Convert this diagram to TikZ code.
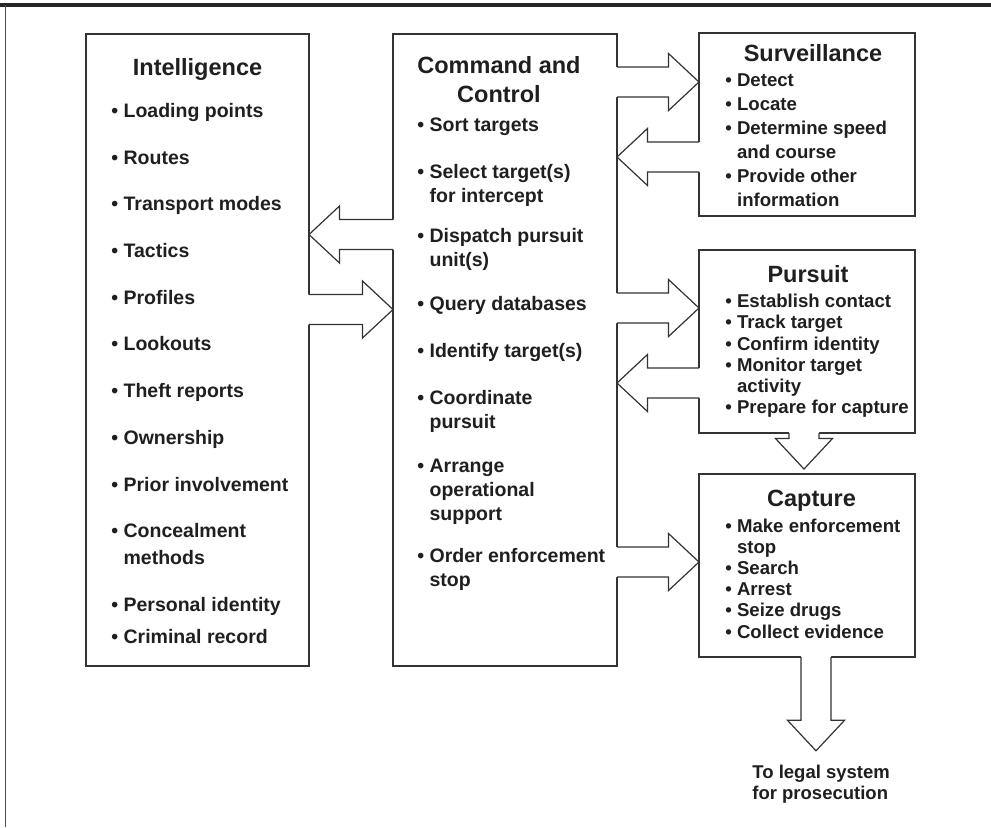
\documentclass[tikz,border=0pt]{standalone}
\usepackage{fontspec}
\setmainfont{Liberation Sans}
\usetikzlibrary{calc}
\colorlet{boxcol}{black!80}
\colorlet{textcol}{black!88}
\tikzstyle{stage}=[draw=boxcol,line width=0.7pt,inner sep=0pt,outer sep=0pt]
\tikzstyle{arrowline}=[boxcol,line width=0.6pt,line join=miter]
\tikzset{
  stage title/.style={textcol,inner sep=0pt,align=center,
                      font=\bfseries\fontsize{11.75}{14.5}\selectfont},
  items/.style 2 args={textcol,inner sep=0pt,anchor=north west,align=left,
                       font=\bfseries\fontsize{#1}{#2}\selectfont}}
\newcommand{\bul}{\textbullet\ }
\newcommand{\ind}{\phantom{\textbullet\ }}
% fat open-tailed arrow from a point on a box edge to its tip
\newcommand{\blockarrow}[2]{%
  \coordinate (ba-t) at #1;
  \coordinate (ba-p) at #2;
  \coordinate (ba-h) at ($(ba-p)!\headlen!(ba-t)$);
  \coordinate (ba-u) at ($(ba-t)!-1pt!(ba-p)$);
  \fill[white] ($(ba-u)!\shaftw!90:(ba-p)$) -- ($(ba-h)!\shaftw!-90:(ba-t)$)
    -- ($(ba-h)!\headw!-90:(ba-t)$) -- (ba-p) -- ($(ba-h)!\headw!90:(ba-t)$)
    -- ($(ba-h)!\shaftw!90:(ba-t)$) -- ($(ba-u)!\shaftw!-90:(ba-p)$) -- cycle;
  \draw[arrowline] ($(ba-t)!\shaftw!90:(ba-p)$) -- ($(ba-h)!\shaftw!-90:(ba-t)$)
    -- ($(ba-h)!\headw!-90:(ba-t)$) -- (ba-p) -- ($(ba-h)!\headw!90:(ba-t)$)
    -- ($(ba-h)!\shaftw!90:(ba-t)$) -- ($(ba-t)!\shaftw!-90:(ba-p)$);
}

\begin{document}
\begin{tikzpicture}[x=0.5pt,y=-0.5pt]
  \def\shaftw{7.5pt}
  \def\headw{14.25pt}
  \def\headlen{15.25pt}
  \useasboundingbox (0,0) rectangle (991,827);

  % FRAME
  \draw[black!85,line width=1.75pt] (0,5) -- (991,5);
  \draw[black!70,line width=0.5pt] (5,5) -- (5,827);

  % BOXES
  \node[stage,minimum width=111.5pt,minimum height=316pt] (intel) at (197.5,350) {};
  \node[stage,minimum width=112pt,minimum height=316pt] (cmd) at (505,350) {};
  \node[stage,minimum width=108pt,minimum height=91.5pt] (surv) at (807,124.5) {};
  \node[stage,minimum width=108pt,minimum height=91.5pt] (purs) at (807,341.5) {};
  \node[stage,minimum width=108pt,minimum height=91.5pt] (capt) at (807,565.5) {};

  % ARROWS
  \foreach \y/\a/\b in {234.5/cmd.west/intel.east, 309.5/intel.east/cmd.west,
                        82/cmd.east/surv.west, 157/surv.west/cmd.east,
                        308/cmd.east/purs.west, 383/purs.west/cmd.east,
                        562/cmd.east/capt.west}{
    \blockarrow{(\a |- 0,\y)}{(\b |- 0,\y)}
  }
  \blockarrow{(purs.south -| 804,0)}{($(capt.north -| 804,0)+(0,-5)$)}

  % TEXT
  \node[stage title,anchor=base] (intel-t) at (197.5,75) {Intelligence};
  \node[stage title,anchor=north] (cmd-t) at (499,52.4) {\strut Command and\\Control};
  \node[stage title,anchor=base] (surv-t) at (813,61.7) {Surveillance};
  \node[stage title,anchor=base] (purs-t) at (808,282.7) {Pursuit};
  \node[stage title,anchor=base] (capt-t) at (811.5,506.7) {Capture};

  \node[items={9.75}{13.5}] (intel-l) at (111,98.1) {\strut\bul Loading points\\[9.85pt]
    \bul Routes\\[9.85pt]
    \bul Transport modes\\[9.85pt]
    \bul Tactics\\[9.85pt]
    \bul Profiles\\[9.85pt]
    \bul Lookouts\\[9.85pt]
    \bul Theft reports\\[9.85pt]
    \bul Ownership\\[9.85pt]
    \bul Prior involvement\\[9.85pt]
    \bul Concealment\\
    \ind methods\\[9.85pt]
    \bul Personal identity\\[2.5pt]
    \bul Criminal record};
  \node[items={9.75}{12}] (cmd-l) at (417,114.2) {\strut\bul Sort targets\\[11.5pt]
    \bul Select target(s)\\
    \ind for intercept\\[8pt]
    \bul Dispatch pursuit\\
    \ind unit(s)\\[10pt]
    \bul Query databases\\[11.5pt]
    \bul Identify target(s)\\[11.5pt]
    \bul Coordinate\\
    \ind pursuit\\[10pt]
    \bul Arrange\\
    \ind operational\\
    \ind support\\[9pt]
    \bul Order enforcement\\
    \ind stop};
  \node[items={9.3}{12}] (surv-l) at (725,69.2) {\strut\bul Detect\\
    \bul Locate\\
    \bul Determine speed\\
    \ind and course\\
    \bul Provide other\\
    \ind information};
  \node[items={9.3}{10.6}] (purs-l) at (725,292.4) {\strut\bul Establish contact\\
    \bul Track target\\
    \bul Confirm identity\\
    \bul Monitor target\\
    \ind activity\\
    \bul Prepare for capture};
  \node[items={9.3}{10.6}] (capt-l) at (725,516.8) {\strut\bul Make enforcement\\
    \ind stop\\
    \bul Search\\
    \bul Arrest\\
    \bul Seize drugs\\
    \bul Collect evidence};
  \node[items={9.25}{10.65}] (legal) at (752,762.8) {\strut To legal system\\
    for prosecution};

  \blockarrow{(capt.south -| 816,0)}{($(legal.north -| 816,0)+(0,-12)$)}
\end{tikzpicture}
\end{document}
